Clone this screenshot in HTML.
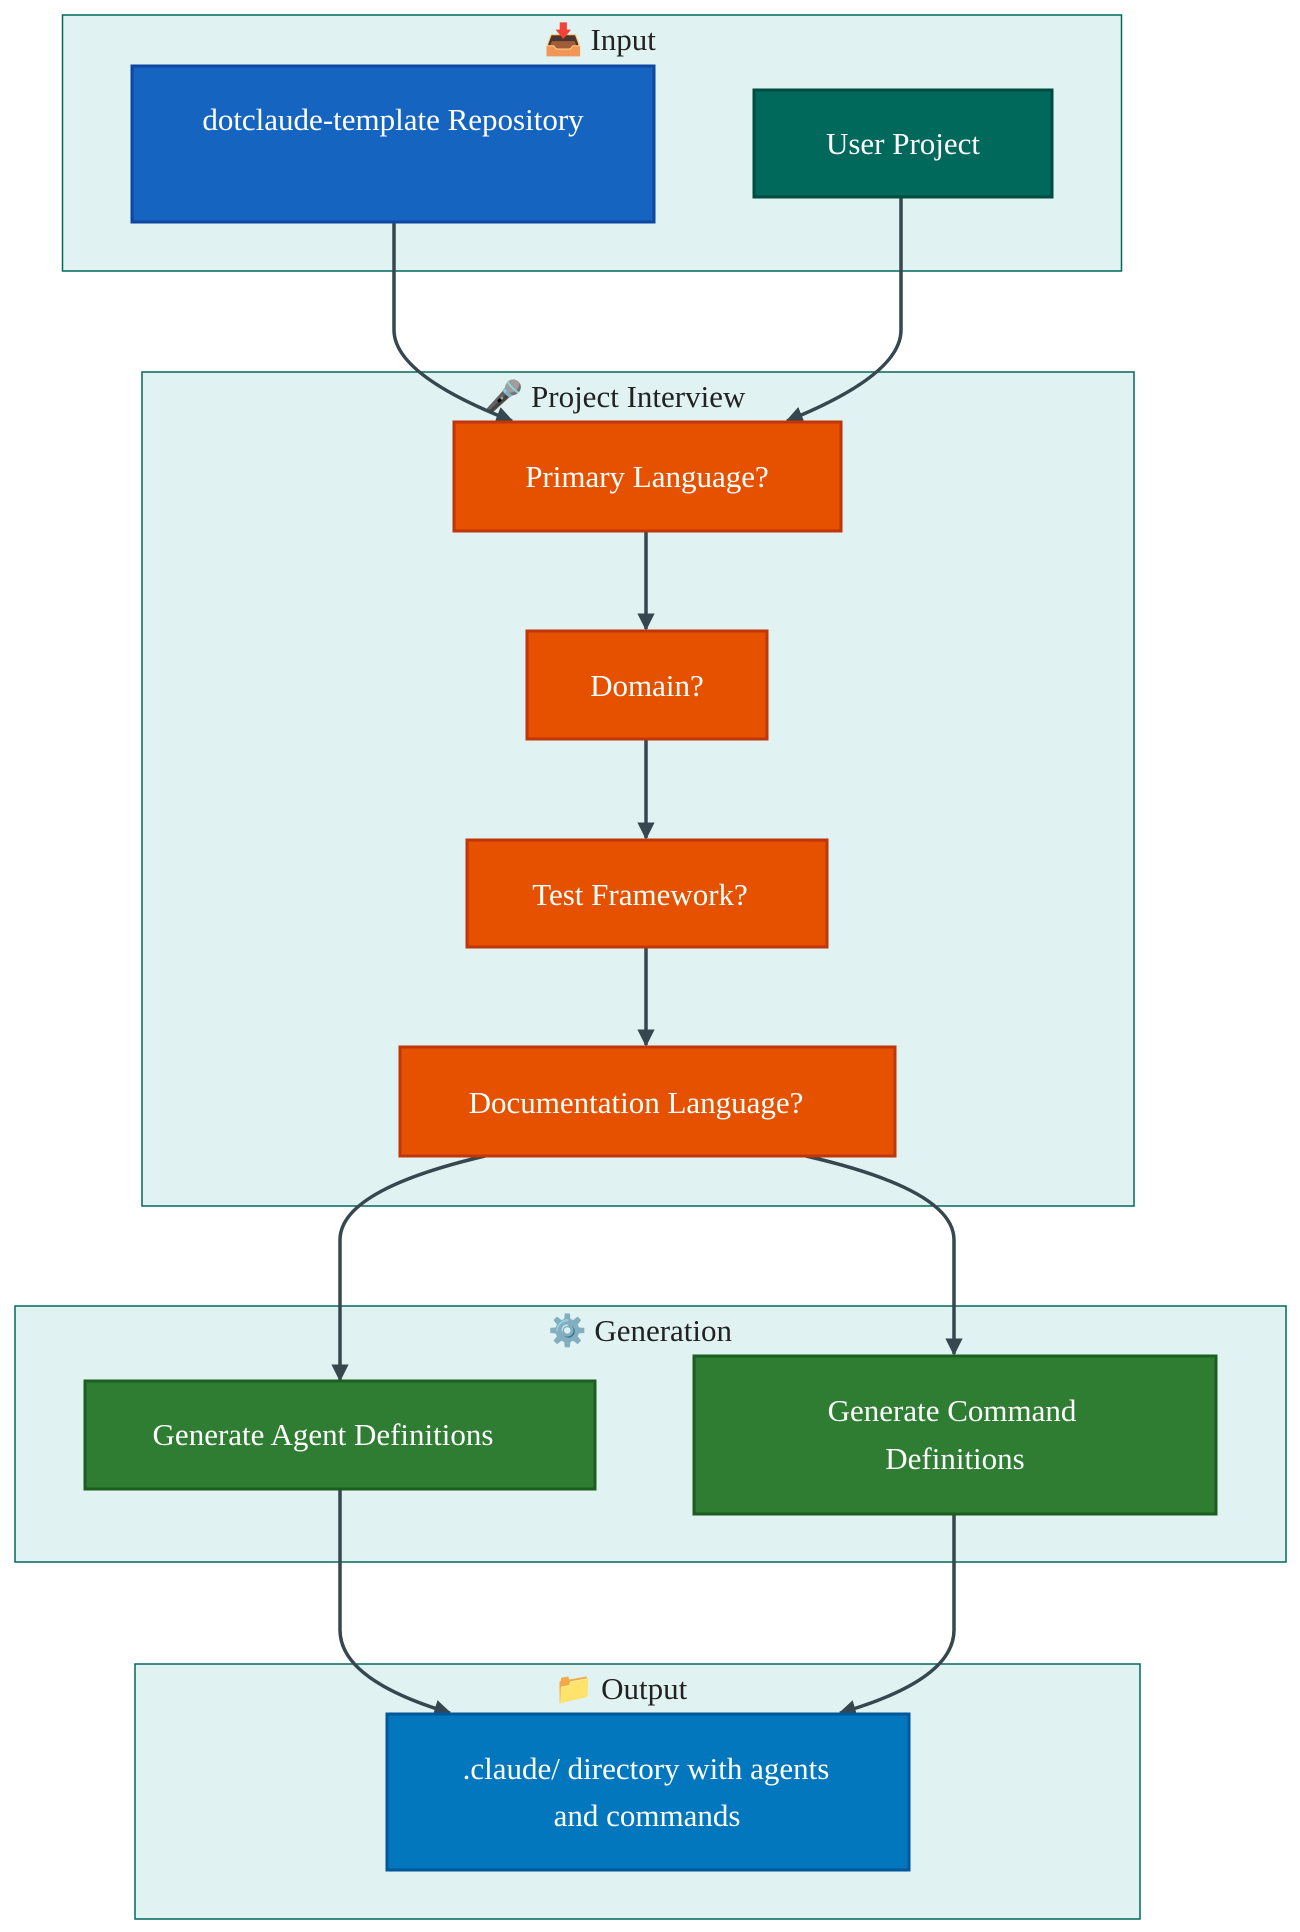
<!DOCTYPE html>
<html><head><meta charset="utf-8"><style>
html,body{margin:0;padding:0;background:#fff;}
svg{display:block;font-family:"Liberation Serif",serif;}
</style></head><body>
<svg width="1300" height="1932" viewBox="0 0 1300 1932" xmlns="http://www.w3.org/2000/svg">
<defs><marker id="a" viewBox="0 0 10 10" refX="9" refY="5" markerWidth="5" markerHeight="5" orient="auto"><path d="M0,0L10,5L0,10z" fill="#37474f"/></marker></defs>
<g fill="#e0f2f1" stroke="#00695c" stroke-width="1.5">
<rect x="62.5" y="15" width="1059" height="256"/>
<rect x="142" y="372" width="992" height="834"/>
<rect x="15" y="1306" width="1271" height="256"/>
<rect x="135" y="1664" width="1005" height="255"/>
</g>
<g font-size="31" fill="#222" text-anchor="middle">
<text x="600" y="50">📥 Input</text>
<text x="615" y="407">🎤 Project Interview</text>
<text x="640" y="1341">⚙️ Generation</text>
<text x="621" y="1699">📁 Output</text>
</g>
<g fill="none" stroke="#37474f" stroke-width="3.5" marker-end="url(#a)">
<path d="M394 222V330Q394 375 512 421"/>
<path d="M901 197V330Q901 375 787 421"/>
<path d="M646 531V629"/>
<path d="M646 739V838"/>
<path d="M646 947V1045"/>
<path d="M485 1156Q340 1190 340 1240V1380"/>
<path d="M806 1156Q954 1190 954 1240V1354"/>
<path d="M340 1489V1630Q340 1680 450 1713"/>
<path d="M954 1514V1630Q954 1680 840 1713"/>
</g>
<g stroke-width="3">
<rect x="132" y="66" width="522" height="156" fill="#1565c0" stroke="#0d47a1"/>
<rect x="754" y="90" width="298" height="107" fill="#00695c" stroke="#004d40"/>
<rect x="454" y="422" width="387" height="109" fill="#e65100" stroke="#bf360c"/>
<rect x="527" y="631" width="240" height="108" fill="#e65100" stroke="#bf360c"/>
<rect x="467" y="840" width="360" height="107" fill="#e65100" stroke="#bf360c"/>
<rect x="400" y="1047" width="495" height="109" fill="#e65100" stroke="#bf360c"/>
<rect x="85" y="1381" width="510" height="108" fill="#2e7d32" stroke="#1b5e20"/>
<rect x="694" y="1356" width="522" height="158" fill="#2e7d32" stroke="#1b5e20"/>
<rect x="387" y="1714" width="522" height="156" fill="#0277bd" stroke="#01579b"/>
</g>
<g font-size="31" fill="#fff" text-anchor="middle">
<text x="393" y="130">dotclaude-template Repository</text>
<text x="903" y="154">User Project</text>
<text x="647" y="487">Primary Language?</text>
<text x="647" y="696">Domain?</text>
<text x="640" y="905">Test Framework?</text>
<text x="636" y="1113">Documentation Language?</text>
<text x="323" y="1445">Generate Agent Definitions</text>
<text x="952" y="1421">Generate Command</text>
<text x="955" y="1469">Definitions</text>
<text x="646" y="1779">.claude/ directory with agents</text>
<text x="647" y="1826">and commands</text>
</g>
</svg>
</body></html>
